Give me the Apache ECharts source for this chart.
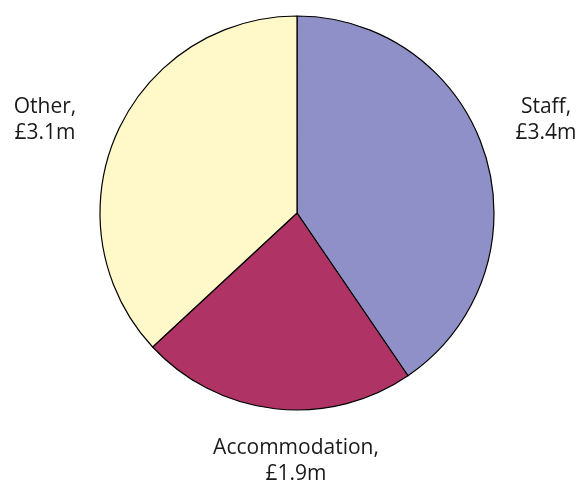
<!DOCTYPE html>
<html>
<head>
<meta charset="utf-8">
<script src="https://cdn.jsdelivr.net/npm/echarts@6/dist/echarts.min.js"></script>
<style>html,body{margin:0;padding:0;background:#fff}#c{width:581px;height:482px}</style>
</head>
<body>
<div id="c"></div>
<script>
const categories = ["Staff", "Accommodation", "Other"];
const values = [3.4, 1.9, 3.1];
const colors = ["#9090C8", "#B03366", "#FFF8C8"];

const labelPos = [
  {x: 546, y: 120},
  {x: 296, y: 461},
  {x: 45, y: 120}
];

const chart = echarts.init(document.getElementById('c'), null, {renderer: 'canvas'});
chart.setOption({
  animation: false,
  series: [{
    type: 'pie',
    center: [297, 213],
    radius: [0, 197],
    startAngle: 90,
    clockwise: true,
    data: categories.map((c, i) => ({name: c, value: values[i], itemStyle: {color: colors[i]}})),
    itemStyle: {borderColor: '#000', borderWidth: 1.2},
    label: {
      show: true,
      position: 'outside',
      formatter: p => p.name + ',\n£' + p.value.toFixed(1) + 'm',
      fontFamily: 'Open Sans',
      fontSize: 21,
      lineHeight: 26,
      color: '#1a1a1a',
      align: 'center',
      overflow: 'none',
      width: 300
    },
    labelLine: {show: false},
    labelLayout: p => ({x: labelPos[p.dataIndex].x, y: labelPos[p.dataIndex].y, align: 'center', verticalAlign: 'middle'}),
    emphasis: {disabled: true}
  }]
});
</script>
</body>
</html>
